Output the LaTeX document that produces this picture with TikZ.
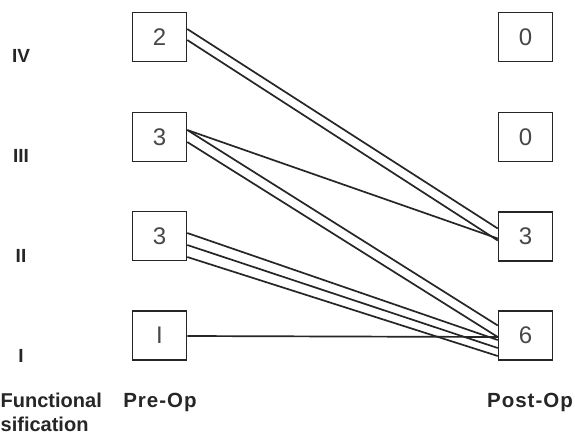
\documentclass[tikz,border=0pt]{standalone}
\usepackage{fontspec}
\setmainfont{Liberation Sans}
\definecolor{ink}{HTML}{262626}
\begin{document}
\begin{tikzpicture}[x=1pt,y=-1pt,
  box/.style={draw=ink, line width=1.5pt, minimum width=54pt, minimum height=49pt, inner sep=0pt,
    font=\fontsize{24}{24}\selectfont, text=ink!85},
  link/.style={draw=ink, line width=1.7pt},
  grade/.style={font=\bfseries\fontsize{19}{19}\selectfont, anchor=base, text=ink},
  caption/.style={font=\bfseries\fontsize{20.5}{20.5}\selectfont\addfontfeatures{LetterSpace=5}, anchor=base, text=ink},
  edgecap/.style={font=\bfseries\fontsize{20}{20}\selectfont, anchor=base west, inner xsep=0pt, text=ink}]
\useasboundingbox (0,0) rectangle (575,434);
\fill[white] (0,0) rectangle (575,434);
% boxes
\node[box] (pre4) at (159.5,37) {2};
\node[box] (pre3) at (159.5,137) {3};
\node[box] (pre2) at (159.5,236) {3};
\node[box] (pre1) at (159.5,335.5) {I};
\node[box] (post4) at (525.5,37) {0};
\node[box] (post3) at (525.5,137) {0};
\node[box] (post2) at (525.5,236.5) {3};
\node[box] (post1) at (525.5,335.5) {6};
% grade labels
\node[grade] (g4) at (21,62) {IV};
\node[grade] (g3) at (21,162) {III};
\node[grade] (g2) at (21,262) {II};
\node[grade] (g1) at (21,362) {I};
% captions
\node[edgecap] (fc1) at (0.5,407) {Functional};
\node[edgecap] (fc2) at (0.5,431) {sification};
\node[caption] (preop) at (160,407) {Pre-Op};
\node[caption] (postop) at (530,407) {Post-Op};
% connectors
\draw[link] ([yshift=8pt]pre4.east) -- ([yshift=8pt]post2.west);
\draw[link] ([yshift=-3pt]pre4.east) -- ([yshift=-4pt]post2.west);
\draw[link] ([yshift=7pt]pre3.east) -- ([yshift=-2pt]post2.west);
\draw[link] ([yshift=7pt]pre3.east) -- ([yshift=10pt]post1.west);
\draw[link] ([yshift=-5pt]pre3.east) -- ([yshift=-1.5pt]post1.west);
\draw[link] ([yshift=3pt]pre2.east) -- ([yshift=-4.5pt]post1.west);
\draw[link] ([yshift=-9pt]pre2.east) -- ([yshift=-12.5pt]post1.west);
\draw[link] ([yshift=-21pt]pre2.east) -- ([yshift=-20.5pt]post1.west);
\draw[link] ([yshift=-0.5pt]pre1.east) -- ([yshift=-1.5pt]post1.west);
\end{tikzpicture}
\end{document}
